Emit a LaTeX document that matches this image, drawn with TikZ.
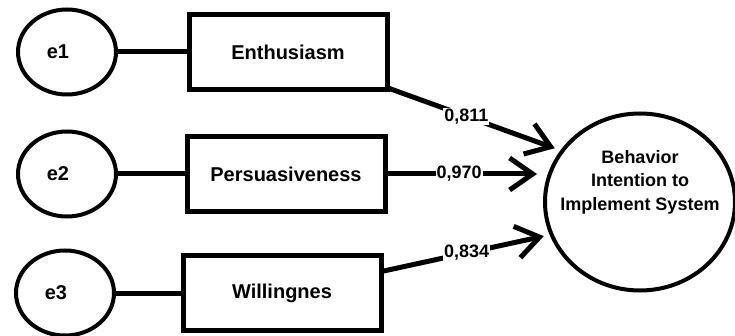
\documentclass[tikz,border=0pt]{standalone}
\usepackage{fontspec}
\setmainfont{Liberation Sans}
\usetikzlibrary{arrows.meta,shapes.geometric}

\begin{document}
\begin{tikzpicture}[%
x=1pt,y=-1pt,
feil/.style={draw,ellipse,line width=4pt,minimum width=98pt,minimum height=85pt,inner sep=0pt},
feiltekst/.style={font=\fontsize{20}{24}\selectfont\bfseries,xshift=-9pt},
indikator/.style={draw,rectangle,line width=5pt,minimum width=198pt,minimum height=75pt,inner sep=0pt,font=\fontsize{20}{24}\selectfont\bfseries},
latent/.style={draw,ellipse,line width=4pt,minimum width=190pt,minimum height=177pt,inner sep=0pt},
sti/.style={line width=5pt},
pil/.style={sti,line cap=round,-{Straight Barb[length=23pt,width=32pt]},shorten >=6pt},
vekt/.style={fill=white,inner sep=1pt,font=\fontsize{18}{22}\selectfont\bfseries}]
\useasboundingbox (0,0) rectangle (735,336);
\node [feil,label={[feiltekst]center:e1}] (e1) at (67,52)  {};
\node [feil,label={[feiltekst]center:e2}] (e2) at (67,174) {};
\node [feil,label={[feiltekst]center:e3}] (e3) at (65,293) {};
\node [indikator] (enthusiasm) at (288,52)  {Enthusiasm};
\node [indikator] (persuasion) at (286,174) {Persuasiveness};
\node [indikator] (willing)    at (282,293) {Willingnes};
\node [latent] (intention) at (640,202) {};
\node [align=center,font=\fontsize{18}{23.5}\selectfont\bfseries] (intentiontekst)
	at ([yshift=20pt]intention.center) {Behavior\\Intention to\\Implement System};
\draw [sti] (e1) -- (enthusiasm);
\draw [sti] (e2) -- (persuasion);
\draw [sti] (e3) -- (willing);
\draw [pil] (enthusiasm) -- (intention.147) node[vekt,pos=.45] {0,811};
\draw [pil] (persuasion) -- (persuasion -| intention.west) node[vekt,pos=.46] {0,970};
\draw [pil] (willing)    -- (intention.200) node[vekt,pos=.5] {0,834};
\end{tikzpicture}
\end{document}
